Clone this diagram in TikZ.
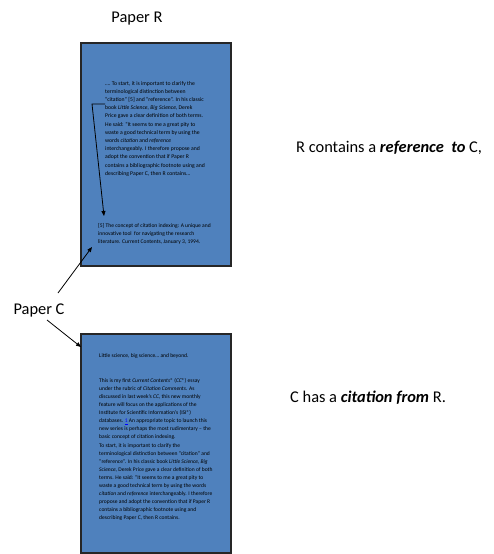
\documentclass[tikz,border=0pt]{standalone}
\usepackage{fontspec}
\setmainfont{Carlito}
\usetikzlibrary{arrows.meta}
\definecolor{paperblue}{HTML}{4F81BD}
\tikzset{
  paper/.style={draw=black!85, line width=1.1pt, fill=paperblue, inner sep=0pt},
  label/.style={font=\fontsize{16.4}{19}\selectfont, inner sep=0pt},
  body/.style={align=left, inner sep=0pt, anchor=north west, text=black},
  bodyA/.style={body, font=\fontsize{5.7}{8.2}\selectfont},
  bodyB/.style={body, font=\fontsize{5.55}{8.1}\selectfont},
  conn/.style={line width=0.8pt, -{Triangle[length=5pt,width=4pt]}},
}
\begin{document}
\begin{tikzpicture}[x=1pt,y=-1pt]
\useasboundingbox (0,0) rectangle (493,554);
% boxes
\node[paper, minimum width=150pt, minimum height=223pt] (boxR) at (156,154.5) {};
\node[paper, minimum width=150pt, minimum height=219pt] (boxC) at (156,443.5) {};
% titles
\node[label] (titleR) at (137,19) {Paper R};
\node[label] (titleC) at (39,310) {Paper C};
% right statements
\node[label, anchor=west] (stmtR) at (296,148) {R contains a \textbf{\textit{reference\ \ to}} C,};
\node[label, anchor=west] (stmtC) at (290,398) {C has a \textbf{\textit{citation from}} R.};
% box R text
\node[bodyA] (textR) at (105,81) {….\ To start, it is important to clarify the\\
terminological distinction between\\
“citation” [5] and “reference”. In his classic\\
book \textit{Little Science, Big Science}, Derek\\
Price gave a clear definition of both terms.\\
He said: “It seems to me a great pity to\\
waste a good technical term by using the\\
words \textit{citation} and \textit{reference}\\
interchangeably. I therefore propose and\\
adopt the convention that if Paper R\\
contains a bibliographic footnote using and\\
describing Paper C, then R contains…};
\node[bodyB] (refR) at (98,223) {[5] The concept of citation indexing: A unique and\\
innovative tool\ \ for navigating the research\\
literature. Current Contents, January 3, 1994.};
% box C text
\node[bodyB] (headC) at (99,353) {Little science, big science… and beyond.};
\node[bodyB] (textC) at (99,378) {This is my first \textit{Current Contents}® (\textit{CC}®) essay\\
under the rubric of \textit{Citation Comments}. As\\
discussed in last week's \textit{CC}, this new monthly\\
feature will focus on the applications of the\\
Institute for Scientific Information's (ISI®)\\
databases. \textcolor{blue}{\underline{1}} An appropriate topic to launch this\\
new series is perhaps the most rudimentary – the\\
basic concept of citation indexing.\\
To start, it is important to clarify the\\
terminological distinction between “citation” and\\
“reference”. In his classic book \textit{Little Science, Big}\\
\textit{Science}, Derek Price gave a clear definition of both\\
terms. He said: “It seems to me a great pity to\\
waste a good technical term by using the words\\
\textit{citation} and \textit{reference} interchangeably. I therefore\\
propose and adopt the convention that if Paper R\\
contains a bibliographic footnote using and\\
describing Paper C, then R contains.};
% connectors
\coordinate (inA) at (105,104);
\coordinate (inB) at (92,104);
\coordinate (inTip) at (104,216);
\draw[conn] (inA) -- (inB) -- (inTip);
\coordinate (cUp) at (58,293);
\coordinate (cUpTip) at (92,247);
\coordinate (cDn) at (47,320);
\coordinate (cDnTip) at (81,347);
\draw[conn] (cUp) -- (cUpTip);
\draw[conn] (cDn) -- (cDnTip);
\end{tikzpicture}
\end{document}
